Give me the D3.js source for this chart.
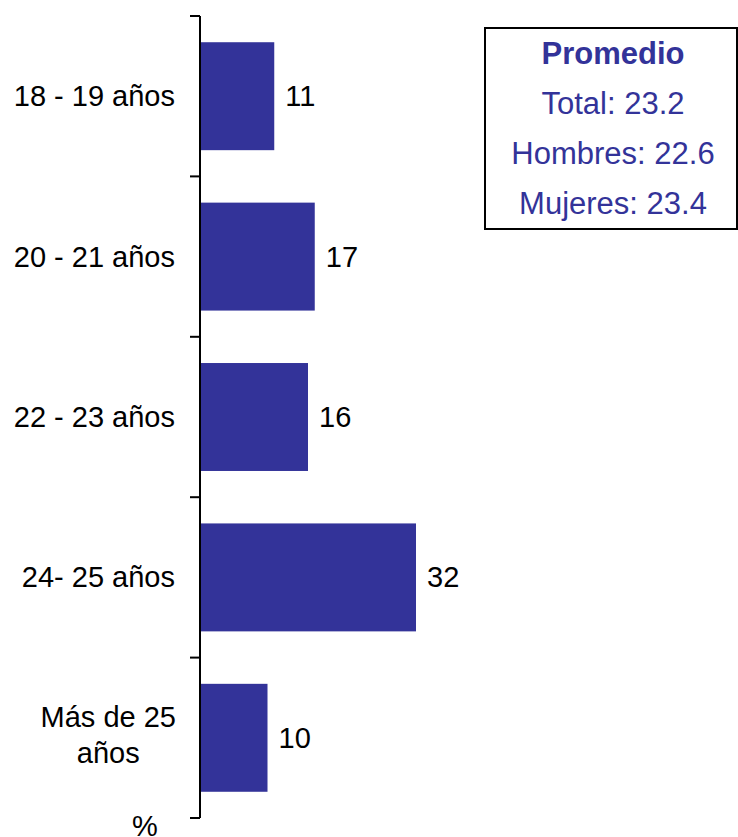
<!DOCTYPE html>
<html lang="es">
<head>
    <meta charset="UTF-8">
    <title>Edad</title>
    <script src="https://d3js.org/d3.v7.min.js"></script>
    <style>
        body { margin: 0; background: #fff; }
        svg { display: block; font-family: "Liberation Sans", Arial, sans-serif; }
    </style>
</head>
<body>
    <svg width="738" height="837"></svg>

    <script>
        // data
        const categories = ["18 - 19 años", "20 - 21 años", "22 - 23 años", "24- 25 años", "Más de 25|años"];
        const values = [11, 17, 16, 32, 10];
        const legendTitle = "Promedio";
        const legendLines = ["Total: 23.2", "Hombres: 22.6", "Mujeres: 23.4"];

        const svg = d3.select("svg");
        const barColor = "#333399";
        const axisX = 200;

        const y = d3.scaleBand()
            .domain(categories)
            .range([16, 818])
            .paddingInner(0.327)
            .paddingOuter(0.1635);

        const x = d3.scaleLinear()
            .domain([0, 32])
            .range([axisX, axisX + 216]);

        // bars
        svg.append("g").selectAll("rect")
            .data(categories)
            .enter()
            .append("rect")
            .attr("x", x(0))
            .attr("y", d => y(d))
            .attr("width", (d, i) => x(values[i]) - x(0))
            .attr("height", y.bandwidth())
            .attr("fill", barColor);

        // value labels
        svg.append("g").selectAll("text")
            .data(categories)
            .enter()
            .append("text")
            .attr("x", (d, i) => x(values[i]) + 11)
            .attr("y", d => y(d) + y.bandwidth() / 2 + 10)
            .attr("font-size", 29)
            .attr("fill", "#000")
            .text((d, i) => values[i]);

        // axis line + ticks at band edges
        const step = y.step();
        const first = y(categories[0]) - step * y.paddingInner() / 2;
        const edges = d3.range(categories.length + 1).map(i => first + i * step);

        const axis = svg.append("g");
        axis.append("line")
            .attr("x1", axisX).attr("x2", axisX)
            .attr("y1", edges[0]).attr("y2", edges[edges.length - 1])
            .attr("stroke", "#000").attr("stroke-width", 2);
        axis.selectAll(".tick")
            .data(edges)
            .enter()
            .append("line")
            .attr("x1", axisX - 10).attr("x2", axisX)
            .attr("y1", d => d).attr("y2", d => d)
            .attr("stroke", "#000").attr("stroke-width", 2);

        // category labels (multi-line ones centred as a block)
        categories.forEach(function (c) {
            const lines = c.split("|");
            const cy = y(c) + y.bandwidth() / 2;
            const g = svg.append("g");
            if (lines.length === 1) {
                g.append("text")
                    .attr("x", 175)
                    .attr("y", cy + 10)
                    .attr("text-anchor", "end")
                    .attr("font-size", 29)
                    .text(c);
            } else {
                const t = g.selectAll("text")
                    .data(lines)
                    .enter()
                    .append("text")
                    .attr("y", (d, i) => cy - 11 + i * 36)
                    .attr("text-anchor", "middle")
                    .attr("font-size", 29)
                    .text(d => d);
                let w = 0;
                t.each(function () { w = Math.max(w, this.getComputedTextLength()); });
                t.attr("x", 176 - w / 2);
            }
        });

        // unit label
        svg.append("text")
            .attr("x", 145)
            .attr("y", 836)
            .attr("text-anchor", "middle")
            .attr("font-size", 29)
            .text("%");

        // legend box
        const legend = svg.append("g");
        legend.append("rect")
            .attr("x", 485).attr("y", 28)
            .attr("width", 252).attr("height", 201)
            .attr("fill", "#fff")
            .attr("stroke", "#000").attr("stroke-width", 2);
        legend.append("text")
            .attr("x", 613).attr("y", 64)
            .attr("text-anchor", "middle")
            .attr("font-size", 31)
            .attr("font-weight", "bold")
            .attr("fill", barColor)
            .text(legendTitle);
        legend.selectAll(".line")
            .data(legendLines)
            .enter()
            .append("text")
            .attr("x", 613)
            .attr("y", (d, i) => 114 + i * 50)
            .attr("text-anchor", "middle")
            .attr("font-size", 31)
            .attr("fill", barColor)
            .text(d => d);
    </script>
</body>
</html>
